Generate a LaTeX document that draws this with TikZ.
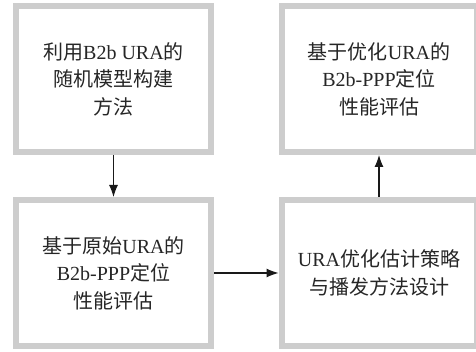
\documentclass[tikz,border=0pt]{standalone}
\usepackage{fontspec}
\setmainfont{Liberation Serif}
\newfontfamily\cjk{Noto Sans CJK SC}
\newcommand\zh[1]{{\cjk #1}}
\usetikzlibrary{arrows.meta}
\definecolor{boxgray}{RGB}{205,205,205}
\begin{document}
\begin{tikzpicture}[x=1pt,y=1pt,
  box/.style={draw=boxgray, line width=6pt, fill=white, minimum width=195pt,
    minimum height=146pt, align=center, inner sep=0pt,
    font=\fontsize{20}{27.5}\selectfont, text=black!85},
  arr/.style={-{Latex[length=12pt,width=9pt]}, line width=1.1pt, black!90}]
\useasboundingbox (0,0) rectangle (476,352);
\node[box] (a) at (113.5,273) {\zh{利用}B2b URA\zh{的}\\\zh{随机模型构建}\\\zh{方法}};
\node[box] (c) at (113.5,79) {\zh{基于原始}URA\zh{的}\\B2b-PPP\zh{定位}\\\zh{性能评估}};
\node[box] (b) at (379,273) {\zh{基于优化}URA\zh{的}\\B2b-PPP\zh{定位}\\\zh{性能评估}};
\node[box] (d) at (379,79) {URA\zh{优化估计策略}\\\zh{与播发方法设计}};
\draw[arr] (a.south) -- (c.north);
\draw[arr] (c.east) -- (d.west);
\draw[arr] (d.north) -- (b.south);
\end{tikzpicture}
\end{document}
